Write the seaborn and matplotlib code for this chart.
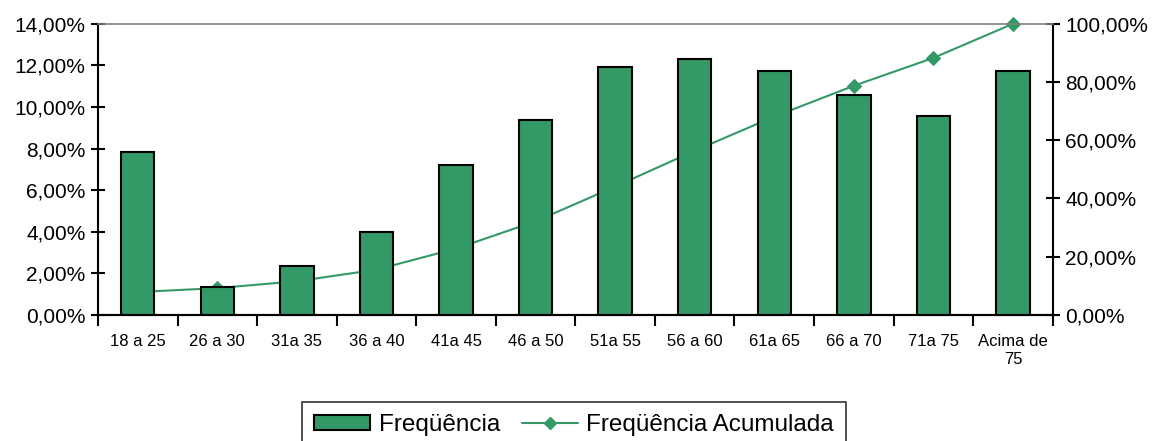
import matplotlib
matplotlib.use("Agg")
import matplotlib.pyplot as plt
import seaborn as sns
import pandas as pd
import numpy as np
from matplotlib.patches import Patch
from matplotlib.lines import Line2D
from matplotlib.ticker import FuncFormatter, FixedLocator

categories = ["18 a 25", "26 a 30", "31a 35", "36 a 40", "41a 45", "46 a 50",
              "51a 55", "56 a 60", "61a 65", "66 a 70", "71a 75", "Acima de\n75"]
frequencia = [7.84, 1.35, 2.36, 3.99, 7.22, 9.38, 11.93, 12.32, 11.74, 10.58, 9.57, 11.74]
acumulada = [7.84, 9.19, 11.55, 15.54, 22.76, 32.14, 44.07, 56.39, 68.13, 78.71, 88.28, 100.0]

GREEN = "#339966"

sns.set_theme(style="white")
plt.rcParams['font.family'] = ['Liberation Sans', 'DejaVu Sans']
plt.rcParams['text.color'] = 'black'
plt.rcParams['xtick.color'] = 'black'
plt.rcParams['ytick.color'] = 'black'
plt.rcParams['axes.labelcolor'] = 'black'

df = pd.DataFrame({"cat": categories, "freq": frequencia, "acum": acumulada})

fig = plt.figure(figsize=(11.53, 4.41), dpi=100)
ax = fig.add_axes([0.085, 0.286, 0.828, 0.66])
ax2 = ax.twinx()

sns.barplot(data=df, x="cat", y="freq", ax=ax, color=GREEN, width=0.42,
            edgecolor="black", linewidth=1.5, saturation=1)
sns.lineplot(x=np.arange(len(categories)), y=df["acum"], ax=ax2, color=GREEN,
             linewidth=1.5, marker="D", markersize=7, markeredgecolor=GREEN,
             clip_on=False)

ax.set_zorder(ax2.get_zorder() + 1)
ax.patch.set_visible(False)

ax.set_xlim(-0.5, len(categories) - 0.5)
ax.set_ylim(0, 14)
ax2.set_ylim(0, 100)

ax.set_yticks(np.arange(0, 14.01, 2))
ax2.set_yticks(np.arange(0, 100.01, 20))
ax.yaxis.set_major_formatter(FuncFormatter(lambda v, p: f"{v:.2f}".replace(".", ",") + "%"))
ax2.yaxis.set_major_formatter(FuncFormatter(lambda v, p: f"{v:.2f}".replace(".", ",") + "%"))

ax.set_xlabel("")
ax.set_ylabel("")
ax2.set_ylabel("")
ax.set_xticks(np.arange(len(categories)))
ax.set_xticklabels(categories, fontsize=12, linespacing=1.25)
ax.xaxis.set_minor_locator(FixedLocator(np.arange(-0.5, len(categories), 1)))
ax.tick_params(axis="x", which="major", length=0, pad=14, labelcolor="black")
ax.tick_params(axis="x", which="minor", length=8, width=1.5, direction="out", color="black", bottom=True)
ax.tick_params(axis="y", which="major", length=10, width=1.5, direction="inout", labelsize=15, color="black", labelcolor="black", left=True, pad=4)
ax2.tick_params(axis="y", which="major", length=10, width=1.5, direction="inout", labelsize=15, color="black", labelcolor="black", right=True, pad=4)

for a in (ax, ax2):
    for s in ("left", "right", "bottom"):
        a.spines[s].set_color("black")
        a.spines[s].set_linewidth(1.5)
    a.spines["top"].set_color("#808080")
    a.spines["top"].set_linewidth(1.2)
ax.spines["right"].set_visible(False)
ax2.spines["left"].set_visible(False)
ax2.spines["top"].set_visible(False)
ax.grid(False)
ax2.grid(False)

handles = [Patch(facecolor=GREEN, edgecolor="black", linewidth=1.5),
           Line2D([], [], color=GREEN, linewidth=1.5, marker="D", markersize=6)]
leg = fig.legend(handles, ["Freqüência", "Freqüência Acumulada"], loc="upper center",
                 bbox_to_anchor=(0.498, 0.088), ncol=2, fontsize=17.5, frameon=True,
                 fancybox=False, edgecolor="black", handlelength=2.3, handleheight=0.6,
                 columnspacing=0.9, handletextpad=0.35, borderpad=0.5, borderaxespad=0,
                 labelcolor="black")
leg.get_frame().set_linewidth(1.2)

fig.savefig("out.png", dpi=100)
